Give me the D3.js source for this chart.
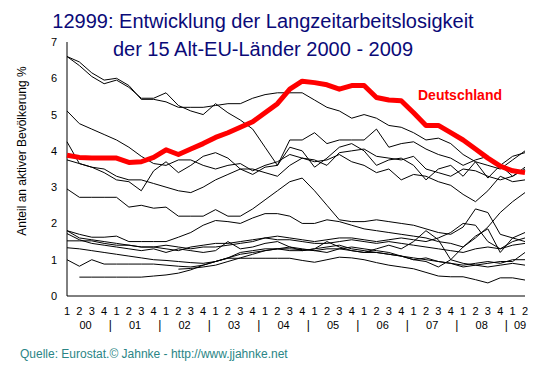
<!DOCTYPE html>
<html>
<head>
<meta charset="utf-8">
<script src="https://cdn.jsdelivr.net/npm/d3@7"></script>
<style>
  body { margin: 0; background: #fff; }
  svg { display: block; font-family: Arial, "Liberation Sans", sans-serif; }
</style>
</head>
<body>
<svg width="553" height="376"></svg>
<script>
// quarters 2000Q1 .. 2009Q2
const quarterLabels = ['1','2','3','4','1','2','3','4','1','2','3','4','1','2','3','4','1','2','3','4',
  '1','2','3','4','1','2','3','4','1','2','3','4','1','2','3','4','1','2']
const yearLabels = ['00','01','02','03','04','05','06','07','08','09']
const yTicks = [0, 1, 2, 3, 4, 5, 6, 7]

// Deutschland
const germany = [3.88,3.82,3.8,3.8,3.8,3.68,3.7,3.82,4.03,3.9,4.05,4.2,4.37,4.5,4.65,4.8,5.05,5.3,5.7,5.92,
  5.88,5.82,5.7,5.8,5.8,5.47,5.4,5.38,5.05,4.7,4.7,4.5,4.3,4.05,3.8,3.58,3.45,3.4]

// the other 14 old EU countries
const others = [
  [6.6,6.45,6.15,5.95,6.0,5.8,5.42,5.42,5.35,5.2,5.2,5.2,5.25,5.3,5.3,5.45,5.55,5.6,5.6,5.6,
   5.4,5.2,5.1,4.9,5.0,4.9,4.7,4.65,4.5,4.3,4.35,4.2,3.9,3.7,3.6,3.5,3.75,4.0],
  [6.6,6.35,6.05,5.85,5.95,5.75,5.45,5.45,5.6,5.25,5.1,5.0,5.3,5.05,4.85,4.6,4.1,3.6,4.3,4.3,
   4.5,4.2,4.3,4.3,4.3,4.6,4.1,4.2,4.25,4.05,3.9,3.8,3.6,3.75,3.85,3.6,3.3,3.5],
  [5.1,4.75,4.6,4.45,4.3,4.1,3.85,3.65,3.6,3.75,3.75,3.6,3.5,3.6,3.65,3.45,3.6,3.7,3.9,3.8,
   3.75,3.6,3.95,4.0,4.05,3.85,3.8,3.75,3.85,3.5,3.4,3.3,3.5,3.45,3.3,3.2,3.3,3.55],
  [4.25,3.65,3.55,3.4,3.2,3.15,2.9,3.45,3.7,3.4,3.6,3.85,3.95,3.8,3.5,3.35,3.55,3.6,4.1,4.0,
   3.55,3.8,4.1,4.2,4.0,3.6,3.75,3.8,3.6,3.2,3.5,3.6,3.3,3.7,3.25,3.6,3.85,3.95],
  [3.75,3.65,3.55,3.5,3.3,3.2,3.2,3.1,3.0,2.9,2.85,3.0,3.2,3.35,3.5,3.5,3.4,3.3,3.6,3.8,
   3.7,3.75,3.9,3.7,3.6,3.4,3.5,3.2,3.35,3.3,3.15,3.05,2.8,2.6,2.9,3.3,3.15,3.2],
  [2.95,2.72,2.72,2.72,2.72,2.45,2.5,2.42,2.45,2.2,2.2,2.2,2.38,2.2,2.2,2.4,2.65,2.9,3.15,3.25,
   2.9,2.5,2.1,2.05,2.05,2.1,2.05,2.0,1.95,1.85,1.75,1.7,1.9,2.4,2.3,1.7,1.6,1.75],
  [1.8,1.7,1.62,1.62,1.65,1.5,1.5,1.5,1.5,1.62,1.75,1.95,2.08,2.05,2.0,2.15,2.27,2.27,2.2,2.0,
   2.0,2.1,2.05,1.95,1.85,1.8,1.75,1.7,1.65,1.6,1.5,1.45,1.35,1.6,1.9,2.3,2.6,2.85],
  [1.72,1.55,1.45,1.4,1.35,1.3,1.25,1.3,1.2,1.3,1.25,1.2,1.25,1.5,1.3,1.35,1.45,1.5,1.35,1.25,
   1.3,1.5,1.35,1.25,1.2,1.3,1.4,1.3,1.5,1.8,1.55,1.0,1.35,1.65,1.85,1.2,1.6,1.5],
  [1.52,1.52,1.52,1.45,1.4,1.4,1.35,1.35,1.4,1.35,1.3,1.35,1.35,1.4,1.45,1.5,1.6,1.55,1.55,1.5,
   1.45,1.45,1.5,1.55,1.5,1.45,1.5,1.45,1.4,1.35,1.3,1.25,1.2,1.3,1.35,1.3,1.4,1.45],
  [1.33,1.3,1.25,1.2,1.15,1.1,1.05,1.0,0.98,0.95,0.92,0.9,0.95,1.05,1.2,1.25,1.3,1.3,1.25,1.25,
   1.3,1.35,1.4,1.3,1.25,1.2,1.15,1.1,1.0,1.05,0.95,0.9,0.85,0.9,0.95,0.9,1.0,1.0],
  [1.0,0.82,1.0,0.88,0.88,0.88,0.88,0.88,0.85,0.82,0.8,0.85,0.95,1.05,1.15,1.2,1.25,1.3,1.35,1.3,
   1.25,1.2,1.3,1.35,1.3,1.25,1.2,1.1,1.0,0.95,0.8,1.0,0.9,0.85,0.8,0.85,0.9,0.85],
  [null,0.52,0.52,0.52,0.52,0.52,0.52,0.55,0.58,0.63,0.72,0.85,0.95,1.04,1.04,1.04,1.04,1.04,1.04,0.98,
   0.93,1.0,1.07,1.05,1.0,0.92,0.85,0.8,0.75,0.65,0.55,0.53,0.53,0.45,0.36,0.5,0.5,0.44],
  [null,null,null,null,null,null,null,null,null,0.74,0.76,0.8,0.85,0.95,1.05,1.15,1.25,1.3,1.3,1.28,
   1.25,1.3,1.3,1.25,1.2,1.2,1.15,1.1,1.05,1.0,0.95,0.9,0.8,0.85,0.9,0.95,0.95,1.2],
  [1.8,1.6,1.55,1.5,1.45,1.4,1.35,1.35,1.3,1.25,1.35,1.4,1.45,1.45,1.5,1.55,1.6,1.65,1.6,1.55,
   1.5,1.55,1.6,1.6,1.55,1.5,1.55,1.6,1.55,1.5,1.6,1.75,2.0,1.95,1.5,1.3,1.5,1.6]
]

const svg = d3.select('svg')

const x = d3.scaleLinear().domain([0, quarterLabels.length - 1]).range([67, 525])
const y = d3.scaleLinear().domain([0, 7]).range([296, 42])

// title
const title = svg.append('text')
  .attr('x', 263).attr('text-anchor', 'middle')
  .style('font-size', '20px').style('fill', '#0a0a78')
title.append('tspan').attr('x', 263).attr('y', 28).text('12999: Entwicklung der Langzeitarbeitslosigkeit')
title.append('tspan').attr('x', 263).attr('y', 56).text('der 15 Alt-EU-Länder 2000 - 2009')

// axes lines
svg.append('line').attr('x1', x(0)).attr('x2', x(0)).attr('y1', y(7)).attr('y2', y(0)).attr('stroke', '#000')
svg.append('line').attr('x1', x(0)).attr('x2', x(37)).attr('y1', y(0)).attr('y2', y(0)).attr('stroke', '#000')

// y tick labels
svg.selectAll('text.ytick')
  .data(yTicks)
  .enter()
  .append('text')
  .attr('class', 'ytick')
  .attr('x', 57)
  .attr('y', d => y(d) + 4)
  .attr('text-anchor', 'end')
  .style('font-size', '11px')
  .text(d => d)

svg.append('text')
  .attr('transform', 'translate(26,151) rotate(-90)')
  .attr('text-anchor', 'middle')
  .style('font-size', '12px')
  .text('Anteil an aktiver Bevölkerung %')

// x tick labels: quarters
svg.selectAll('text.qtick')
  .data(quarterLabels)
  .enter()
  .append('text')
  .attr('class', 'qtick')
  .attr('x', (d, i) => x(i))
  .attr('y', 315)
  .attr('text-anchor', 'middle')
  .style('font-size', '11px')
  .text(d => d)

// year labels and separators
svg.selectAll('text.year')
  .data(yearLabels)
  .enter()
  .append('text')
  .attr('class', 'year')
  .attr('x', (d, i) => i < 9 ? x(i * 4 + 1.5) : x(36.6))
  .attr('y', 329)
  .attr('text-anchor', 'middle')
  .style('font-size', '11px')
  .text(d => d)

svg.selectAll('text.sep')
  .data(d3.range(9))
  .enter()
  .append('text')
  .attr('class', 'sep')
  .attr('x', i => x(i * 4 + 3.5))
  .attr('y', 329)
  .attr('text-anchor', 'middle')
  .style('font-size', '12px')
  .text('|')

const line = d3.line()
  .defined(d => d != null)
  .x((d, i) => x(i))
  .y(d => y(d))

svg.append('g')
  .selectAll('path')
  .data(others)
  .enter()
  .append('path')
  .attr('d', line)
  .attr('fill', 'none')
  .attr('stroke', '#000')
  .attr('stroke-width', 1)

svg.append('path')
  .datum(germany)
  .attr('d', line)
  .attr('fill', 'none')
  .attr('stroke', '#ff0000')
  .attr('stroke-width', 5)
  .attr('stroke-linejoin', 'round')

svg.append('text')
  .attr('x', 418).attr('y', 100)
  .style('font-size', '14px').style('font-weight', 'bold').style('fill', '#ff0000')
  .text('Deutschland')

svg.append('text')
  .attr('x', 20).attr('y', 358)
  .style('font-size', '12px').style('fill', '#2a8585')
  .text('Quelle: Eurostat.© Jahnke - http://www.jjahnke.net')
</script>
</body>
</html>
